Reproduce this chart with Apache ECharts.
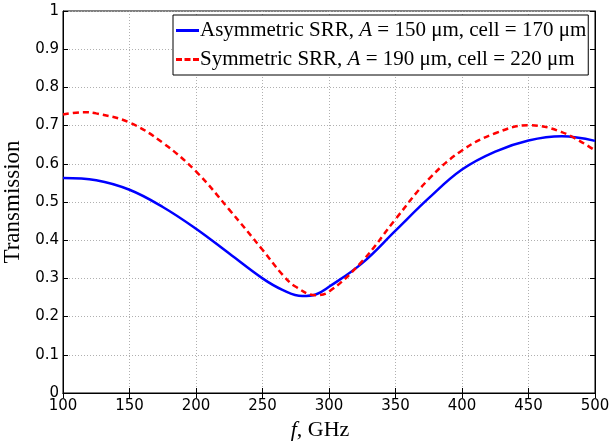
<!DOCTYPE html>
<html><head><meta charset="utf-8">
<script src="https://cdn.jsdelivr.net/npm/echarts@6/dist/echarts.min.js"></script>
<style>html,body{margin:0;padding:0;background:#fff}#c{width:609px;height:443px}</style>
</head><body><div id="c"></div>
<script>
const asymX = [100,125,150,175,200,225,250,265,280,290,300,325,350,375,400,425,450,475,500];
const asymY = [0.563,0.557,0.532,0.487,0.430,0.365,0.300,0.270,0.254,0.258,0.278,0.340,0.425,0.510,0.585,0.632,0.661,0.672,0.660];
const symX = [100,115,125,150,175,200,225,250,265,275,290,300,325,350,375,400,425,450,475,500];
const symY = [0.729,0.735,0.732,0.708,0.655,0.580,0.480,0.375,0.310,0.278,0.256,0.265,0.345,0.455,0.560,0.635,0.680,0.701,0.683,0.635];
const xTicks = [100,150,200,250,300,350,400,450,500];
const yTicks = [0,0.1,0.2,0.3,0.4,0.5,0.6,0.7,0.8,0.9,1];
const names = ['Asymmetric SRR, A = 150 μm, cell = 170 μm','Symmetric SRR, A = 190 μm, cell = 220 μm'];

const chart = echarts.init(document.getElementById('c'));
const tickFont = {fontFamily:'DejaVu Sans', fontSize:15, color:'#000'};
const gridLine = {show:true, lineStyle:{color:'#b0b0b0', type:[1,2], width:1}};
chart.setOption({
  animation:false,
  grid:{left:63, right:14, top:11, bottom:50, show:true, borderColor:'#000', borderWidth:1, outerBoundsMode:'none', containLabel:false},
  legend:{
    left:173, top:15, orient:'vertical', itemWidth:23, itemHeight:3, itemGap:8,
    backgroundColor:'#fff', borderColor:'#000', borderWidth:1, padding:[5,2,5,3],
    data:[
      {name:names[0], icon:'rect', itemStyle:{color:'#0000ff'}},
      {name:names[1], icon:'path://M0,0h6v3h-6z M8.5,0h6v3h-6z M17,0h6v3h-6z', itemStyle:{color:'#ff0000'}}
    ],
    formatter: n => n.replace(' A ', ' {i|A} '),
    textStyle:{fontFamily:'Liberation Serif', fontSize:21, color:'#000', padding:[0,0,0,-4],
      rich:{i:{fontFamily:'Liberation Serif', fontStyle:'italic', fontSize:21, color:'#000'}}}
  },
  xAxis:[{
    type:'value', min:100, max:500, interval:50,
    axisLine:{lineStyle:{color:'#000'}}, axisTick:{inside:true, length:5, lineStyle:{color:'#000'}},
    axisLabel:Object.assign({margin:6, formatter:v=>xTicks.includes(v)?String(v):''}, tickFont),
    splitLine:gridLine,
    name:'{i|f}, GHz', nameLocation:'middle', nameGap:21,
    nameTextStyle:{fontFamily:'Liberation Serif', fontSize:22, color:'#000', padding:[0,18,0,0], rich:{i:{fontFamily:'Liberation Serif', fontStyle:'italic', fontSize:22, color:'#000'}}}
  },{
    type:'value', position:'top', min:100, max:500, interval:50,
    axisLine:{lineStyle:{color:'#000'}}, axisTick:{inside:true, length:5, lineStyle:{color:'#000'}},
    axisLabel:{show:false}, splitLine:{show:false}
  }],
  yAxis:[{
    type:'value', min:0, max:1, interval:0.1,
    axisLine:{lineStyle:{color:'#000'}}, axisTick:{inside:true, length:5, lineStyle:{color:'#000'}},
    axisLabel:Object.assign({margin:4, formatter:v=>String(+v.toFixed(1))}, tickFont),
    splitLine:gridLine,
    name:'Transmission', nameLocation:'middle', nameGap:31,
    nameTextStyle:{fontFamily:'Liberation Serif', fontSize:23, color:'#000'}
  },{
    type:'value', position:'right', min:0, max:1, interval:0.1,
    axisLine:{lineStyle:{color:'#000'}}, axisTick:{inside:true, length:5, lineStyle:{color:'#000'}},
    axisLabel:{show:false}, splitLine:{show:false}
  }],
  series:[
    {name:names[0], type:'line', smooth:0.4, symbol:'none', data:asymX.map((x,i)=>[x,asymY[i]]),
     lineStyle:{color:'#0000ff', width:2.5}, itemStyle:{color:'#0000ff'}},
    {name:names[1], type:'line', smooth:0.4, symbol:'none', data:symX.map((x,i)=>[x,symY[i]]),
     lineStyle:{color:'#ff0000', width:2.5, type:[6,4]}, itemStyle:{color:'#ff0000'}}
  ]
});
</script></body></html>
